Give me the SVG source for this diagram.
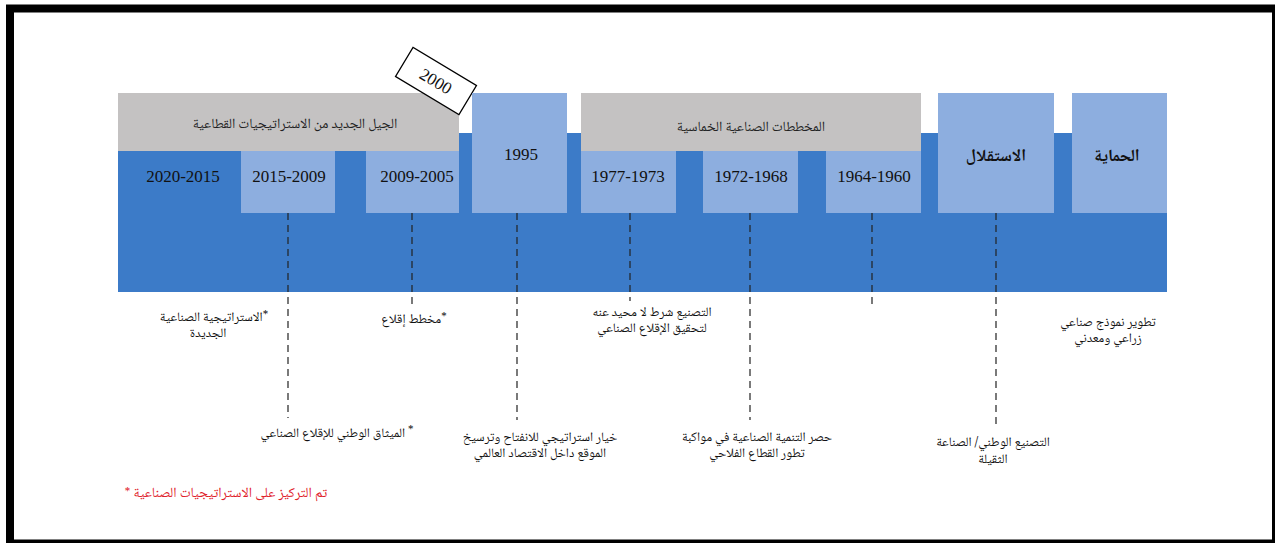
<svg xmlns="http://www.w3.org/2000/svg" width="1275" height="543" viewBox="0 0 1275 543">
<style>
.dark{fill:#3c7bc8}
.light{fill:#8daedf}
.gray{fill:#c4c2c2}
.yr{font-family:"Liberation Serif",serif;font-size:17px;fill:#111;text-anchor:middle}
.ar{font-family:"Noto Naskh Arabic","Noto Sans Arabic","DejaVu Sans",sans-serif;font-size:13px;fill:#111;text-anchor:middle;direction:rtl}
.arh{font-family:"Noto Naskh Arabic","Noto Sans Arabic","DejaVu Sans",sans-serif;font-size:14px;fill:#222;text-anchor:middle;direction:rtl}
.arb{font-family:"Noto Naskh Arabic","Noto Sans Arabic","DejaVu Sans",sans-serif;font-size:17px;font-weight:bold;fill:#111;text-anchor:middle;direction:rtl}
.red{font-family:"Noto Naskh Arabic","Noto Sans Arabic","DejaVu Sans",sans-serif;font-size:14px;fill:#e0202a;text-anchor:middle;direction:rtl}
.dash{stroke:#222;stroke-width:1.2;stroke-dasharray:7 5;fill:none}
.sup{font-size:11px}
</style>
<rect x="0" y="0" width="1275" height="543" fill="#fff"/>
<rect x="10" y="8.5" width="1266" height="535" fill="none" stroke="#000" stroke-width="8"/>

<g id="band">
<rect class="dark" x="118" y="133" width="1049" height="159"/>
</g>

<g id="group-new-generation">
<rect class="gray" x="118" y="93" width="341" height="58"/>
<text class="arh" x="295" y="128">الجيل الجديد من الاستراتيجيات القطاعية</text>
</g>

<g id="node-2020-2015">
<rect class="dark" x="118" y="151" width="123" height="62"/>
<text class="yr" x="183" y="182">2020-2015</text>
</g>

<g id="node-2015-2009">
<rect class="light" x="241" y="151" width="94" height="62"/>
<text class="yr" x="289" y="182">2015-2009</text>
</g>

<g id="node-2009-2005">
<rect class="light" x="366" y="151" width="93" height="62"/>
<text class="yr" x="417" y="182">2009-2005</text>
</g>

<g id="node-2000">
<g transform="translate(436,81) rotate(31)">
<rect x="-37" y="-17" width="74" height="34" fill="#fff" stroke="#000" stroke-width="1.3"/>
<text class="yr" x="0" y="6">2000</text>
</g>
</g>

<g id="node-1995">
<rect class="light" x="472" y="93" width="95" height="120"/>
<text class="yr" x="521" y="160">1995</text>
</g>

<g id="group-five-year">
<rect class="gray" x="581" y="93" width="340" height="58"/>
<text class="arh" x="751" y="131">المخططات الصناعية الخماسية</text>
</g>

<g id="node-1977-1973">
<rect class="light" x="581" y="151" width="95" height="62"/>
<text class="yr" x="628" y="182">1977-1973</text>
</g>

<g id="node-1972-1968">
<rect class="light" x="703" y="151" width="95" height="62"/>
<text class="yr" x="751" y="182">1972-1968</text>
</g>

<g id="node-1964-1960">
<rect class="light" x="826" y="151" width="95" height="62"/>
<text class="yr" x="874" y="182">1964-1960</text>
</g>

<g id="node-independence">
<rect class="light" x="938" y="93" width="116" height="120"/>
<text class="arb" x="996" y="161">الاستقلال</text>
</g>

<g id="node-protection">
<rect class="light" x="1072" y="93" width="95" height="120"/>
<text class="arb" x="1117" y="161">الحماية</text>
</g>

<g id="connectors">
<line class="dash" x1="288" y1="213" x2="288" y2="418"/>
<line class="dash" x1="412" y1="213" x2="412" y2="308"/>
<line class="dash" x1="517" y1="213" x2="517" y2="420"/>
<line class="dash" x1="630" y1="213" x2="630" y2="301"/>
<line class="dash" x1="750" y1="213" x2="750" y2="420"/>
<line class="dash" x1="872" y1="213" x2="872" y2="306"/>
<line class="dash" x1="996" y1="213" x2="996" y2="428"/>
</g>

<g id="labels">
<text class="ar" y="321"><tspan x="214"><tspan class="sup" baseline-shift="3">*</tspan>الاستراتيجية الصناعية</tspan><tspan x="208" dy="16">الجديدة</tspan></text>
<text class="ar" x="414" y="323"><tspan class="sup" baseline-shift="3">*</tspan>مخطط إقلاع</text>
<text class="ar" y="316"><tspan x="652">التصنيع شرط لا محيد عنه</tspan><tspan x="652" dy="16">لتحقيق الإقلاع الصناعي</tspan></text>
<text class="ar" y="326"><tspan x="1108">تطوير نموذج صناعي</tspan><tspan x="1108" dy="16">زراعي ومعدني</tspan></text>
<text class="ar" x="337" y="437"><tspan class="sup" baseline-shift="4">*</tspan> الميثاق الوطني للإقلاع الصناعي</text>
<text class="ar" y="441"><tspan x="540">خيار استراتيجي للانفتاح وترسيخ</tspan><tspan x="540" dy="16">الموقع داخل الاقتصاد العالمي</tspan></text>
<text class="ar" y="441"><tspan x="757">حصر التنمية الصناعية في مواكبة</tspan><tspan x="757" dy="16">تطور القطاع الفلاحي</tspan></text>
<text class="ar" y="446"><tspan x="993">التصنيع الوطني/ الصناعة</tspan><tspan x="993" dy="17">الثقيلة</tspan></text>
<text class="red" x="226" y="497">تم التركيز على الاستراتيجيات الصناعية <tspan class="sup" baseline-shift="2">*</tspan></text>
</g>
</svg>
